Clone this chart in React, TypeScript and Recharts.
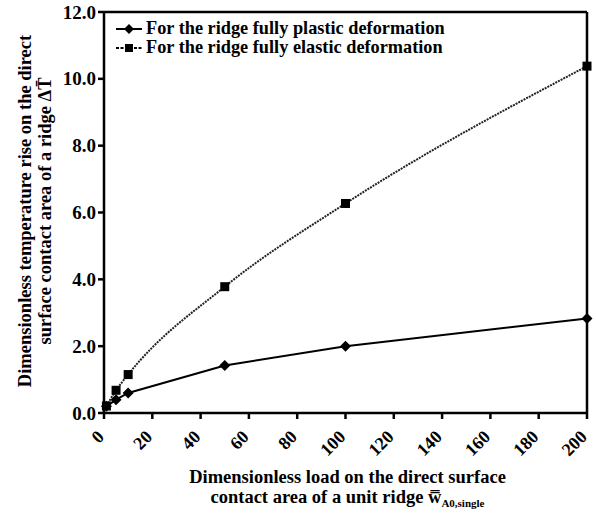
import React from "react";
import { LineChart, Line, XAxis, YAxis, ReferenceLine, Legend, Label } from "recharts";

const loads = [1, 5, 10, 50, 100, 200];
const plasticRise = [0.2, 0.4, 0.6, 1.42, 2.0, 2.83];
const elasticRise = [0.21, 0.68, 1.15, 3.78, 6.27, 10.38];
const xTicks = [0, 20, 40, 60, 80, 100, 120, 140, 160, 180, 200];
const yTicks = [0, 2, 4, 6, 8, 10, 12];
const seriesNames = ["For the ridge fully plastic deformation", "For the ridge fully elastic deformation"];

const data = loads.map((w, i) => ({ w, plastic: plasticRise[i], elastic: elasticRise[i] }));

const FONT = "Liberation Serif, Times New Roman, serif";

const Diamond = (props: any) => {
  const { cx, cy } = props;
  if (cx == null || cy == null) return null;
  const r = 5.5;
  return <path d={`M${cx},${cy - r}L${cx + r},${cy}L${cx},${cy + r}L${cx - r},${cy}Z`} fill="#000" />;
};
const Square = (props: any) => {
  const { cx, cy } = props;
  if (cx == null || cy == null) return null;
  const r = 4.5;
  return <rect x={cx - r} y={cy - r} width={2 * r} height={2 * r} fill="#000" />;
};

const XTick = (props: any) => {
  const { x, y, payload } = props;
  const ax = x + 1;
  const ay = y + 17;
  return (
    <text
      x={ax}
      y={ay}
      transform={`rotate(-45, ${ax}, ${ay})`}
      textAnchor="end"
      fontFamily={FONT}
      fontWeight="bold"
      fontSize={18}
      fill="#000"
    >
      {payload.value}
    </text>
  );
};

const YTick = (props: any) => {
  const { x, y, payload } = props;
  return (
    <text x={x} y={y + 6.5} textAnchor="end" fontFamily={FONT} fontWeight="bold" fontSize={19} fill="#000">
      {Number(payload.value).toFixed(1)}
    </text>
  );
};

const LegendContent = () => (
  <div style={{ fontFamily: FONT, fontWeight: "bold", fontSize: 18.3, color: "#000", lineHeight: "19px", textAlign: "left", whiteSpace: "nowrap" }}>
    {seriesNames.map((n, i) => (
      <div key={n} style={{ display: "flex", alignItems: "center" }}>
        <svg width={28} height={14} style={{ marginRight: 3 }}>
          <line x1={1} y1={7} x2={27} y2={7} stroke="#000" strokeWidth={2} strokeDasharray={i === 0 ? undefined : "3 1.5"} />
          {i === 0 ? <path d="M14,2L19,7L14,12L9,7Z" fill="#000" /> : <rect x={10} y={3} width={8} height={8} fill="#000" />}
        </svg>
        <span>{n}</span>
      </div>
    ))}
  </div>
);

const XTitle = (props: any) => {
  const { viewBox } = props;
  const cx = viewBox.x + viewBox.width / 2 + 2;
  const y0 = 483;
  return (
    <text fontFamily={FONT} fontWeight="bold" fontSize={18.5} fill="#000" textAnchor="middle">
      <tspan x={cx} y={y0}>Dimensionless load on the direct surface</tspan>
      <tspan x={cx} y={y0 + 20}>
        contact area of a unit ridge w{"\u033F"}
        <tspan fontSize={11} dy={4}>A0,single</tspan>
      </tspan>
    </text>
  );
};

const YTitle = (props: any) => {
  const { viewBox } = props;
  const cy = viewBox.y + viewBox.height / 2 - 1.5;
  const x1 = 31;
  const x2 = 51;
  return (
    <g>
      <text transform={`rotate(-90, ${x1}, ${cy})`} x={x1} y={cy} fontFamily={FONT} fontWeight="bold" fontSize={18.5} fill="#000" textAnchor="middle">
        Dimensionless temperature rise on the direct
      </text>
      <text transform={`rotate(-90, ${x2}, ${cy})`} x={x2} y={cy} fontFamily={FONT} fontWeight="bold" fontSize={18.5} fill="#000" textAnchor="middle">
        surface contact area of a ridge  ΔT{"\u0304"}
      </text>
    </g>
  );
};

export default function App() {
  return (
    <div style={{ position: "absolute", left: 0, top: 0, width: 596, height: 516, background: "#fff" }}>
      <LineChart width={596} height={516} data={data} margin={{ top: 12, right: 9, left: 44, bottom: 53 }}>
        <XAxis
          dataKey="w"
          type="number"
          domain={[0, 200]}
          ticks={xTicks}
          tick={<XTick />}
          stroke="#000"
          strokeWidth={2.5}
          tickSize={6}
          height={50}
          interval={0}
        >
          <Label content={<XTitle />} />
        </XAxis>
        <YAxis
          type="number"
          domain={[0, 12]}
          ticks={yTicks}
          tick={<YTick />}
          stroke="#000"
          strokeWidth={2.5}
          tickSize={6}
          width={60}
          interval={0}
        >
          <Label content={<YTitle />} />
        </YAxis>
        <ReferenceLine y={12} stroke="#000" strokeWidth={2.5} />
        <ReferenceLine x={200} stroke="#000" strokeWidth={2.5} />
        <Legend content={<LegendContent />} layout="horizontal" verticalAlign="middle" align="center" wrapperStyle={{ position: "absolute", left: 115, top: 19, width: 420, height: 40 }} />
        <Line
          type="linear"
          dataKey="plastic"
          name={seriesNames[0]}
          stroke="#000"
          strokeWidth={2}
          dot={<Diamond />}
          isAnimationActive={false}
        />
        <Line
          type="monotone"
          dataKey="elastic"
          name={seriesNames[1]}
          stroke="#222"
          strokeWidth={2}
          strokeDasharray="2 1"
          dot={<Square />}
          isAnimationActive={false}
        />
      </LineChart>
    </div>
  );
}
